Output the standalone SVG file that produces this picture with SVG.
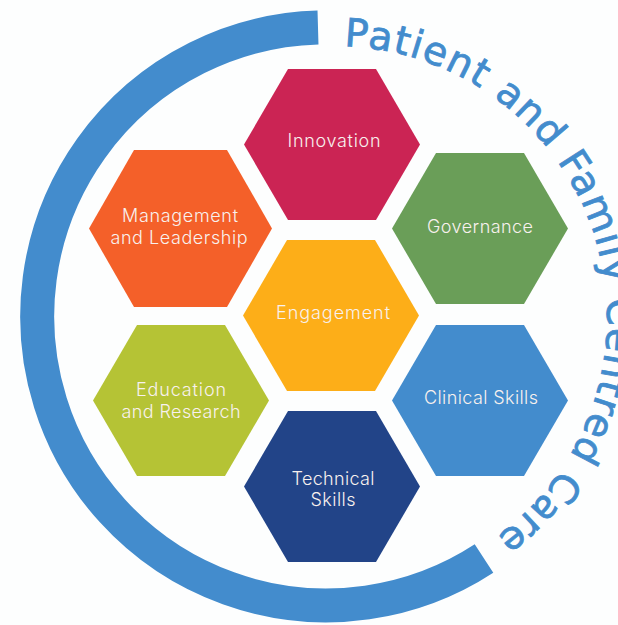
<svg xmlns="http://www.w3.org/2000/svg" width="618" height="625" viewBox="0 0 618 625">
<style>
text{font-family:"Inter","Liberation Sans",sans-serif}
.l{fill:#f8f1ee;font-size:18px;font-weight:300;text-anchor:middle}
.c{fill:#438ccd;stroke:#438ccd;stroke-width:.8px;font-size:39px;letter-spacing:1.4px;font-family:"DejaVu Sans",sans-serif}
</style>
<defs><path id="tp" d="M 344 46.200 A 272 272 0 0 1 471 553.600"/></defs>
<rect width="618" height="625" fill="#fdfefe"/>
<path id="ring" d="M 318 27.500 A 289 289 0 1 0 484 558.500" fill="none" stroke="#438ccd" stroke-width="34"/>
<text class="c"><textPath href="#tp">Patient and Family Centred Care</textPath></text>
<g id="innovation"><polygon points="244,144.500 288,69 376,69 420,144.500 376,220 288,220" fill="#cb2454"/><text class="l" x="334" y="147" textLength="93">Innovation</text></g>
<g id="governance"><polygon points="392,228.500 436,153 524,153 568,228.500 524,304 436,304" fill="#6a9e58"/><text class="l" x="480" y="233" textLength="106">Governance</text></g>
<g id="clinical"><polygon points="392,400.500 436,325 524,325 568,400.500 524,476 436,476" fill="#438ccd"/><text class="l" x="481" y="404" textLength="114">Clinical Skills</text></g>
<g id="technical"><polygon points="244,486.500 288,411 376,411 420,486.500 376,562 288,562" fill="#224488"/><text class="l" x="333" y="485" textLength="83">Technical</text><text class="l" x="333" y="506" textLength="45">Skills</text></g>
<g id="engagement"><polygon points="243,315.500 287,240 375,240 419,315.500 375,391 287,391" fill="#fdae18"/><text class="l" x="333" y="319" textLength="114">Engagement</text></g>
<g id="management"><polygon points="89,228.500 134,150 227,150 272,228.500 227,307 134,307" fill="#f46029"/><text class="l" x="180" y="222" textLength="116">Management</text><text class="l" x="179" y="244" textLength="137">and Leadership</text></g>
<g id="education"><polygon points="93,400.500 137,325 225,325 269,400.500 225,476 137,476" fill="#b5c335"/><text class="l" x="181" y="396" textLength="90">Education</text><text class="l" x="181" y="418" textLength="119">and Research</text></g>
</svg>
